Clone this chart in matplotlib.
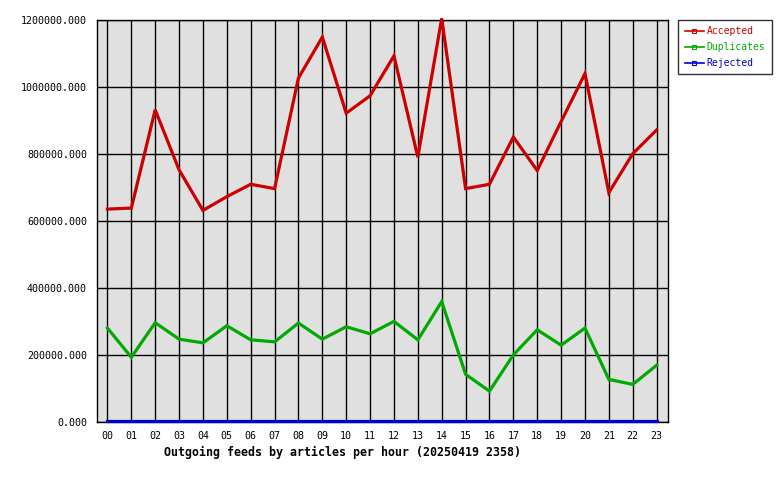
import matplotlib
matplotlib.use("Agg")
import matplotlib.pyplot as plt
import matplotlib.transforms as mtransforms
from matplotlib.lines import Line2D
from matplotlib.ticker import FuncFormatter

hours = ["00", "01", "02", "03", "04", "05", "06", "07", "08", "09", "10", "11",
         "12", "13", "14", "15", "16", "17", "18", "19", "20", "21", "22", "23"]
accepted = [636000, 639000, 932000, 753000, 632000, 673000, 710000, 697000,
            1027000, 1149000, 922000, 974000, 1093000, 791000, 1205000, 697000,
            710000, 851000, 751000, 897000, 1040000, 685000, 801000, 872000]
duplicates = [281000, 194000, 297000, 248000, 237000, 288000, 246000, 240000,
              296000, 248000, 285000, 264000, 301000, 246000, 360000, 143000,
              93000, 201000, 276000, 230000, 281000, 128000, 113000, 170000]
rejected = [0] * 24
yticks = [0, 200000, 400000, 600000, 800000, 1000000, 1200000]
series_names = ["Accepted", "Duplicates", "Rejected"]
colors = ["#cc0000", "#00aa00", "#0000cc"]
title = "Outgoing feeds by articles per hour (20250419 2358)"

mono = "DejaVu Sans Mono"
fig = plt.figure(figsize=(7.8, 4.8), dpi=100)
ax = fig.add_axes([96.7 / 780, 1 - 422.3 / 480, (668.3 - 96.7) / 780, (422.3 - 20) / 480])
ax.set_facecolor("#e0e0e0")

x = list(range(len(hours)))
# the reference draws the line just above the bottom frame (pixel-rendering offset)
lift = mtransforms.ScaledTranslation(0, 1.6 / 100, fig.dpi_scale_trans)
for vals, c in zip([accepted, duplicates, rejected], colors):
    tr = ax.transData + lift if vals is rejected else ax.transData
    ax.plot(x, vals, color=c, lw=2.3, solid_joinstyle="miter", clip_on=False,
            zorder=3, transform=tr)

ax.set_xlim(-0.45, 23.49)
ax.set_ylim(0, 1200000)
ax.set_xticks(x)
ax.set_xticklabels(hours, fontfamily=mono, fontsize=7.2)
ax.set_yticks(yticks)
ax.yaxis.set_major_formatter(FuncFormatter(lambda v, p: f"{v:.3f}"))
for lab in ax.get_yticklabels():
    lab.set_fontfamily(mono)
    lab.set_fontsize(7.2)
ax.tick_params(axis="both", length=0, colors="black")
ax.tick_params(axis="y", pad=7)
ax.tick_params(axis="x", pad=6)
ax.grid(True, color="black", lw=1.0, zorder=1)
ax.set_axisbelow(True)
for s in ax.spines.values():
    s.set_color("black")
    s.set_linewidth(1.0)

fig.text(343 / 780, 1 - 452.3 / 480, title, ha="center", va="center",
         fontfamily=mono, fontsize=8.4, fontweight="bold")

handles = [Line2D([0], [0], color=c, lw=1.2, marker="s", markersize=2.5,
                  markerfacecolor="none", markeredgecolor=c, markeredgewidth=0.8)
           for c in colors]
leg = fig.legend(handles, series_names, loc="upper left",
                 bbox_to_anchor=(678.3 / 780, 1 - 20 / 480),
                 prop={"family": mono, "size": 7.0}, frameon=True, fancybox=False,
                 edgecolor="black", handlelength=2.0, handletextpad=0.25,
                 borderpad=0.65, labelspacing=0.6, borderaxespad=0, markerscale=1)
leg.get_frame().set_linewidth(1.0)
for t, c in zip(leg.get_texts(), colors):
    t.set_color(c)

fig.savefig("out.png", dpi=100, facecolor="white")
